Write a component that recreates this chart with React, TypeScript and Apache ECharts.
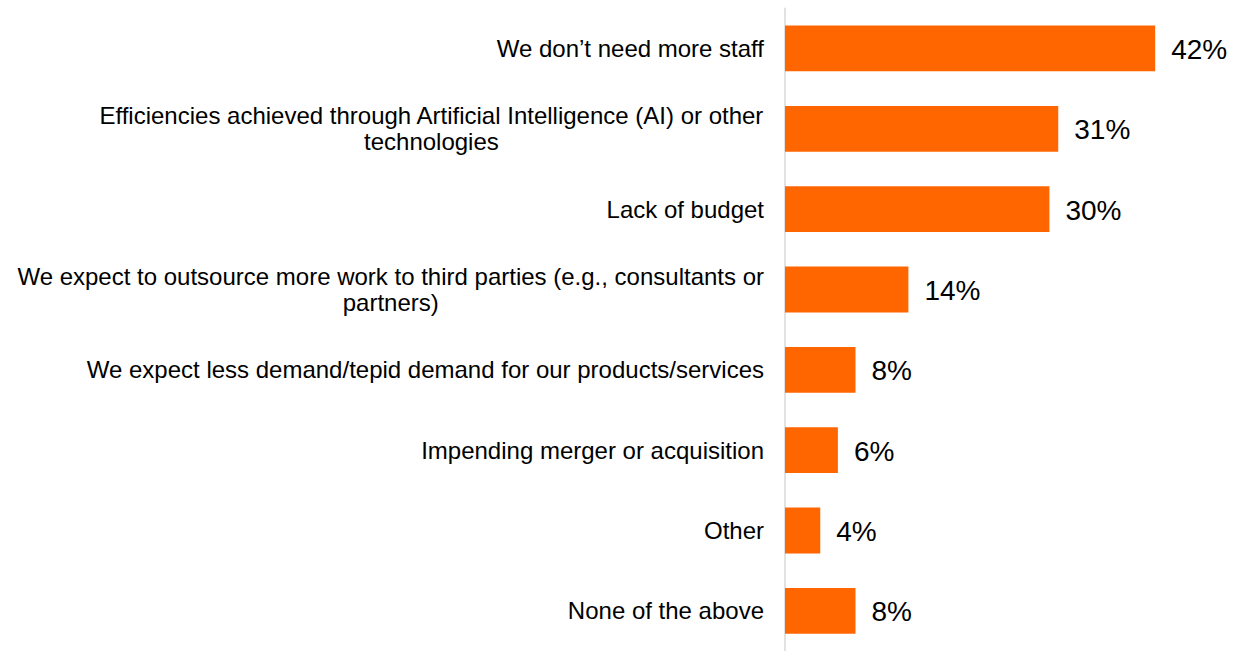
import React, { useEffect, useRef } from "react";
import * as echarts from "echarts";

const categories: string[] = [
  "We don’t need more staff",
  "Efficiencies achieved through Artificial Intelligence (AI) or other\ntechnologies",
  "Lack of budget",
  "We expect to outsource more work to third parties (e.g., consultants or\npartners)",
  "We expect less demand/tepid demand for our products/services",
  "Impending merger or acquisition",
  "Other",
  "None of the above",
];

const values: number[] = [42, 31, 30, 14, 8, 6, 4, 8];

export default function App() {
  const ref = useRef<HTMLDivElement>(null);

  useEffect(() => {
    if (!ref.current) return;
    const chart = echarts.init(ref.current, undefined, { renderer: "svg" });
    chart.setOption({
      animation: false,
      backgroundColor: "#ffffff",
      grid: { left: 785, right: 9.3, top: 8.3, bottom: -4.2, containLabel: false },
      xAxis: {
        type: "value",
        min: 0,
        max: 50,
        show: false,
      },
      yAxis: {
        type: "category",
        inverse: true,
        data: categories,
        axisLine: { show: true, lineStyle: { color: "#d9d9d9", width: 1.5 } },
        axisTick: { show: false },
        splitLine: { show: false },
        axisLabel: {
          margin: 21,
          align: "right",
          fontFamily: "Liberation Sans, Arial, sans-serif",
          fontSize: 24,
          color: "#000000",
          formatter: (v: string) =>
            v
              .split("\n")
              .map((l) => `{c|${l}}`)
              .join("\n"),
          rich: {
            c: {
              align: "center",
              fontFamily: "Liberation Sans, Arial, sans-serif",
              fontSize: 24,
              lineHeight: 26,
              color: "#000000",
            },
          },
        },
      },
      series: [
        {
          type: "bar",
          data: values,
          barCategoryGap: "43%",
          itemStyle: { color: "#FF6600" },
          label: {
            show: true,
            position: "right",
            distance: 16,
            offset: [0, 1],
            formatter: "{c}%",
            fontFamily: "Liberation Sans, Arial, sans-serif",
            fontSize: 28,
            color: "#000000",
          },
        },
      ],
    });
    return () => chart.dispose();
  }, []);

  return (
    <div
      ref={ref}
      style={{ position: "fixed", left: 0, top: 0, width: 1235, height: 651, background: "#fff" }}
    />
  );
}
